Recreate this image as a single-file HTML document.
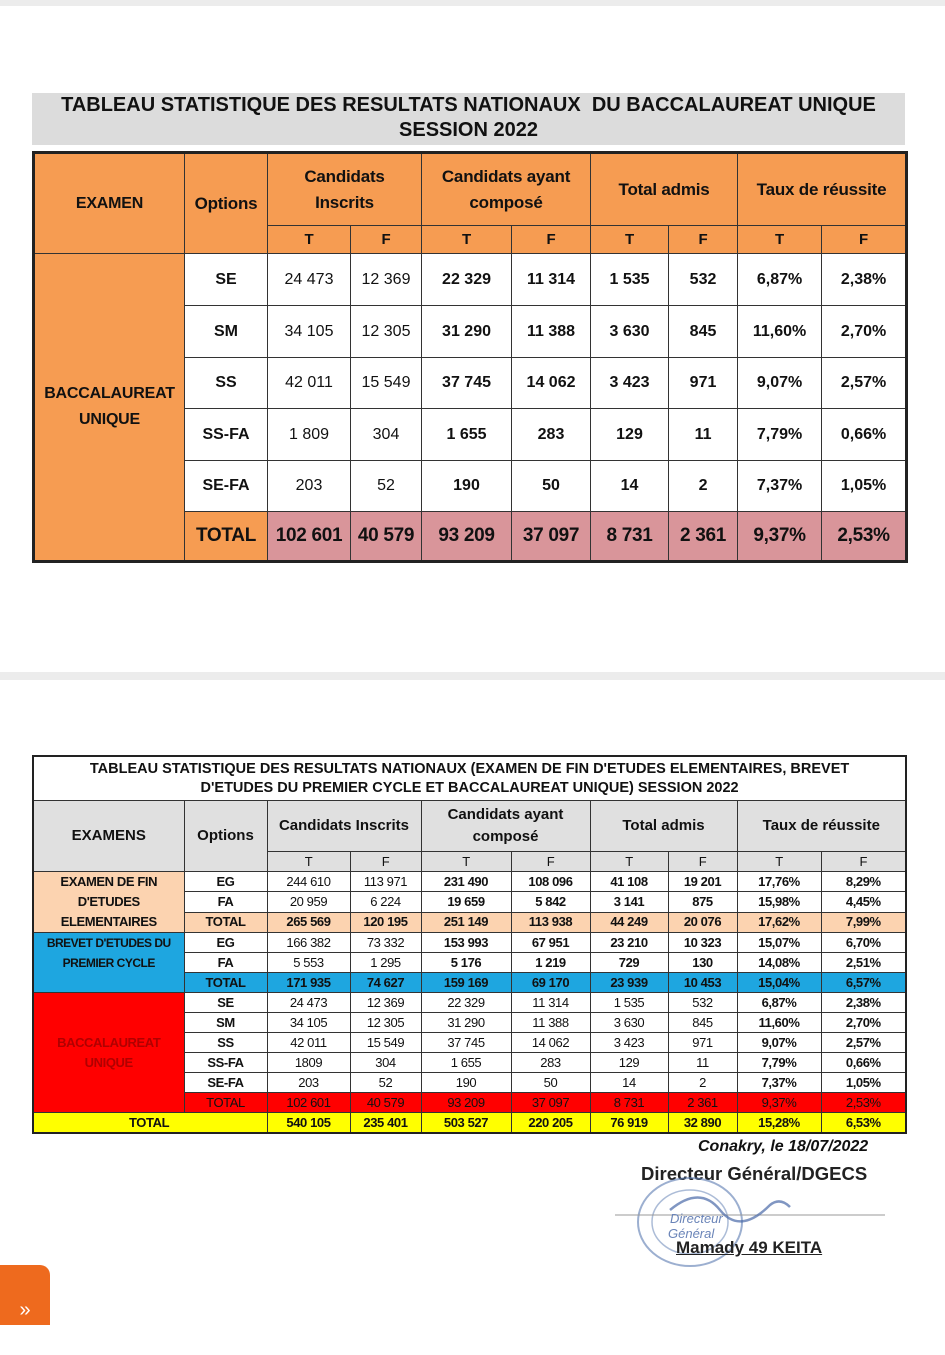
<!DOCTYPE html>
<html><head><meta charset="utf-8"><style>
body{margin:0;width:945px;height:1321px;background:#fff;position:relative;overflow:hidden;font-family:"Liberation Sans",sans-serif}
.band{position:absolute;left:0;width:945px;background:#ececec}
table{position:absolute;border-collapse:collapse;table-layout:fixed}
td{padding:0;text-align:center;vertical-align:middle;overflow:hidden;white-space:nowrap}
#t1{left:32px;top:151px;width:873px;border:3px solid #222}
#t1 td{border:1.5px solid #333;font-size:16px;color:#111}
#t1 .h{background:#f69c52;font-weight:bold;font-size:17px;letter-spacing:-0.2px}
#t1 .n{font-weight:bold}
#t1 .tot td{background:#d9959a;font-weight:bold;font-size:19px;letter-spacing:-0.3px}
#t2{left:32px;top:755px;width:873px;border:2px solid #222}
#t2 td{border:1px solid #333;font-size:13px;letter-spacing:-0.4px;color:#111;height:19px;line-height:18px}
#t2 .b{font-weight:bold}
.pe{background:#fcd3b0}.bl{background:#1ea6e0}.rd{background:#f00;color:#b00000!important}.ye{background:#ffff00}.gr{background:#e0e0e0}
</style></head><body>
<div class="band" style="top:0;height:6px"></div>
<div class="band" style="top:672px;height:8px"></div>
<div style="position:absolute;left:32px;top:93px;width:873px;height:52px;background:#dcdcdc;text-align:center;font-weight:bold;font-size:20px;line-height:25px;color:#111">TABLEAU STATISTIQUE DES RESULTATS NATIONAUX&nbsp; DU BACCALAUREAT UNIQUE<br>SESSION 2022</div>
<table id="t1">
<colgroup><col style="width:151px"><col style="width:83px"><col style="width:83px"><col style="width:71px"><col style="width:90px"><col style="width:79px"><col style="width:78px"><col style="width:69px"><col style="width:84px"><col style="width:85px"></colgroup>
<tr style="height:73px"><td class="h" rowspan="2" style="font-size:16px">EXAMEN</td><td class="h" rowspan="2">Options</td><td class="h" colspan="2" style="line-height:26px">Candidats<br>Inscrits</td><td class="h" colspan="2" style="line-height:26px">Candidats ayant<br>composé</td><td class="h" colspan="2">Total admis</td><td class="h" colspan="2">Taux de réussite</td></tr>
<tr style="height:28px"><td class="h" style="font-size:15px">T</td><td class="h" style="font-size:15px">F</td><td class="h" style="font-size:15px">T</td><td class="h" style="font-size:15px">F</td><td class="h" style="font-size:15px">T</td><td class="h" style="font-size:15px">F</td><td class="h" style="font-size:15px">T</td><td class="h" style="font-size:15px">F</td></tr>
<tr style="height:52px"><td class="h" rowspan="6" style="font-size:16px;line-height:26px">BACCALAUREAT<br>UNIQUE</td><td class="n">SE</td><td>24 473</td><td>12 369</td><td class="n">22 329</td><td class="n">11 314</td><td class="n">1 535</td><td class="n">532</td><td class="n">6,87%</td><td class="n">2,38%</td></tr>
<tr style="height:52px"><td class="n">SM</td><td>34 105</td><td>12 305</td><td class="n">31 290</td><td class="n">11 388</td><td class="n">3 630</td><td class="n">845</td><td class="n">11,60%</td><td class="n">2,70%</td></tr>
<tr style="height:51px"><td class="n">SS</td><td>42 011</td><td>15 549</td><td class="n">37 745</td><td class="n">14 062</td><td class="n">3 423</td><td class="n">971</td><td class="n">9,07%</td><td class="n">2,57%</td></tr>
<tr style="height:52px"><td class="n">SS-FA</td><td>1 809</td><td>304</td><td class="n">1 655</td><td class="n">283</td><td class="n">129</td><td class="n">11</td><td class="n">7,79%</td><td class="n">0,66%</td></tr>
<tr style="height:51px"><td class="n">SE-FA</td><td>203</td><td>52</td><td class="n">190</td><td class="n">50</td><td class="n">14</td><td class="n">2</td><td class="n">7,37%</td><td class="n">1,05%</td></tr>
<tr style="height:50px" class="tot"><td style="background:#f69c52">TOTAL</td><td>102 601</td><td>40 579</td><td>93 209</td><td>37 097</td><td>8 731</td><td>2 361</td><td>9,37%</td><td>2,53%</td></tr>
</table>
<table id="t2">
<colgroup><col style="width:151px"><col style="width:83px"><col style="width:83px"><col style="width:71px"><col style="width:90px"><col style="width:79px"><col style="width:78px"><col style="width:69px"><col style="width:84px"><col style="width:85px"></colgroup>
<tr><td colspan="10" style="height:43px;line-height:19px;font-size:14.5px;letter-spacing:0;font-weight:bold;white-space:normal">TABLEAU STATISTIQUE DES RESULTATS NATIONAUX (EXAMEN DE FIN D'ETUDES ELEMENTAIRES, BREVET<br>D'ETUDES DU PREMIER CYCLE ET BACCALAUREAT UNIQUE) SESSION 2022</td></tr>
<tr><td class="gr b" rowspan="2" style="font-size:15px;letter-spacing:0">EXAMENS</td><td class="gr b" rowspan="2" style="font-size:15px;letter-spacing:0">Options</td><td class="gr b" colspan="2" style="height:50px;font-size:15px;letter-spacing:0">Candidats Inscrits</td><td class="gr b" colspan="2" style="font-size:15px;letter-spacing:0;line-height:22px">Candidats ayant<br>composé</td><td class="gr b" colspan="2" style="font-size:15px;letter-spacing:0">Total admis</td><td class="gr b" colspan="2" style="font-size:15px;letter-spacing:0">Taux de réussite</td></tr>
<tr><td class="gr" style="height:17px;line-height:16px">T</td><td class="gr">F</td><td class="gr">T</td><td class="gr">F</td><td class="gr">T</td><td class="gr">F</td><td class="gr">T</td><td class="gr">F</td></tr>
<tr><td class="pe b" rowspan="3" style="line-height:20px">EXAMEN DE FIN<br>D'ETUDES<br>ELEMENTAIRES</td><td class="b">EG</td><td>244 610</td><td>113 971</td><td class="b">231 490</td><td class="b">108 096</td><td class="b">41 108</td><td class="b">19 201</td><td class="b">17,76%</td><td class="b">8,29%</td></tr>
<tr><td class="b">FA</td><td>20 959</td><td>6 224</td><td class="b">19 659</td><td class="b">5 842</td><td class="b">3 141</td><td class="b">875</td><td class="b">15,98%</td><td class="b">4,45%</td></tr>
<tr class="pe b"><td>TOTAL</td><td>265 569</td><td>120 195</td><td>251 149</td><td>113 938</td><td>44 249</td><td>20 076</td><td>17,62%</td><td>7,99%</td></tr>
<tr><td class="bl b" rowspan="3" style="line-height:20px;vertical-align:top;font-size:12px;letter-spacing:-0.5px">BREVET D'ETUDES DU<br>PREMIER CYCLE</td><td class="b">EG</td><td>166 382</td><td>73 332</td><td class="b">153 993</td><td class="b">67 951</td><td class="b">23 210</td><td class="b">10 323</td><td class="b">15,07%</td><td class="b">6,70%</td></tr>
<tr><td class="b">FA</td><td>5 553</td><td>1 295</td><td class="b">5 176</td><td class="b">1 219</td><td class="b">729</td><td class="b">130</td><td class="b">14,08%</td><td class="b">2,51%</td></tr>
<tr class="bl b"><td>TOTAL</td><td>171 935</td><td>74 627</td><td>159 169</td><td>69 170</td><td>23 939</td><td>10 453</td><td>15,04%</td><td>6,57%</td></tr>
<tr><td class="rd b" rowspan="6" style="line-height:20px">BACCALAUREAT<br>UNIQUE</td><td class="b">SE</td><td>24 473</td><td>12 369</td><td>22 329</td><td>11 314</td><td>1 535</td><td>532</td><td class="b">6,87%</td><td class="b">2,38%</td></tr>
<tr><td class="b">SM</td><td>34 105</td><td>12 305</td><td>31 290</td><td>11 388</td><td>3 630</td><td>845</td><td class="b">11,60%</td><td class="b">2,70%</td></tr>
<tr><td class="b">SS</td><td>42 011</td><td>15 549</td><td>37 745</td><td>14 062</td><td>3 423</td><td>971</td><td class="b">9,07%</td><td class="b">2,57%</td></tr>
<tr><td class="b">SS-FA</td><td>1809</td><td>304</td><td>1 655</td><td>283</td><td>129</td><td>11</td><td class="b">7,79%</td><td class="b">0,66%</td></tr>
<tr><td class="b">SE-FA</td><td>203</td><td>52</td><td>190</td><td>50</td><td>14</td><td>2</td><td class="b">7,37%</td><td class="b">1,05%</td></tr>
<tr class="rd"><td>TOTAL</td><td>102 601</td><td>40 579</td><td>93 209</td><td>37 097</td><td>8 731</td><td>2 361</td><td>9,37%</td><td>2,53%</td></tr>
<tr class="ye b"><td colspan="2" style="text-align:left;padding-left:95px">TOTAL</td><td>540 105</td><td>235 401</td><td>503 527</td><td>220 205</td><td>76 919</td><td>32 890</td><td>15,28%</td><td>6,53%</td></tr>
</table>
<div style="position:absolute;left:698px;top:1138px;font-size:16px;font-weight:bold;font-style:italic;color:#111">Conakry, le 18/07/2022</div>
<div style="position:absolute;left:641px;top:1163px;font-size:18.5px;font-weight:bold;color:#222">Directeur Général/DGECS</div>
<svg style="position:absolute;left:610px;top:1175px" width="280" height="95">
<ellipse cx="80" cy="47" rx="52" ry="44" fill="none" stroke="#5a7ab0" stroke-width="2" opacity=".6"/>
<ellipse cx="80" cy="47" rx="38" ry="32" fill="none" stroke="#5a7ab0" stroke-width="1.5" opacity=".5"/>
<line x1="5" y1="40" x2="275" y2="40" stroke="#999" stroke-width="1"/>
<path d="M60 35 Q90 10 110 35 T160 30 Q170 22 180 32" fill="none" stroke="#4a6aa8" stroke-width="2.5" opacity=".7"/>
<text x="60" y="48" font-family="Liberation Sans" font-style="italic" font-size="13" fill="#6a84b8">Directeur</text>
<text x="58" y="63" font-family="Liberation Sans" font-style="italic" font-size="13" fill="#6a84b8">Général</text>
</svg>
<div style="position:absolute;left:676px;top:1238px;font-size:17px;font-weight:bold;color:#222;text-decoration:underline">Mamady 49 KEITA</div>
<div style="position:absolute;left:0;top:1265px;width:50px;height:60px;background:#ee6a1e;border-radius:0 10px 0 0;color:#fff;font-size:20px;line-height:90px;text-align:center">»</div>
</body></html>
